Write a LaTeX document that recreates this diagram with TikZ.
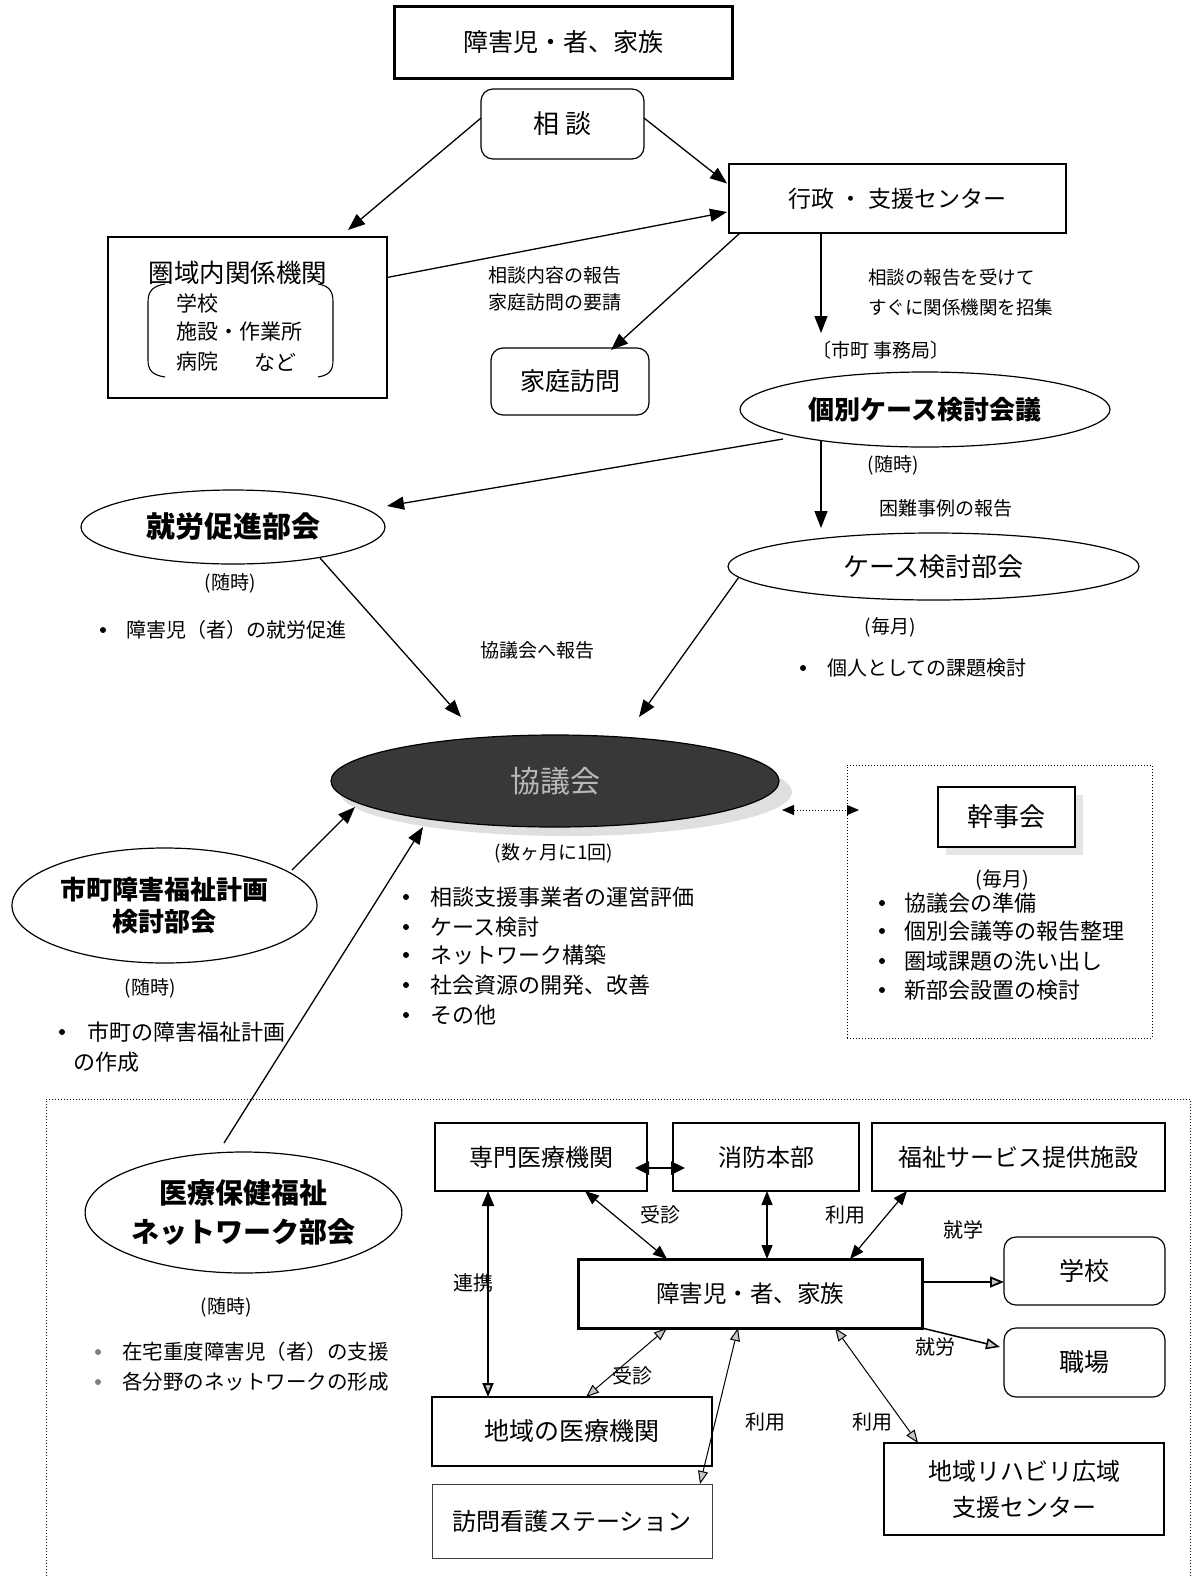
\documentclass[tikz,border=0pt]{standalone}
\usepackage{fontspec}
\setmainfont{Noto Sans CJK JP}
\usetikzlibrary{shapes.geometric,arrows.meta}
\newcommand\fsz[1]{\fontsize{#1}{#1}\selectfont}
\begin{document}
\begin{tikzpicture}[x=1pt,y=-1pt,
  box/.style={draw, line width=1.2pt, inner sep=0pt, outer sep=0pt, align=center},
  rbox/.style={box, rounded corners=12pt},
  ell/.style={draw, ellipse, line width=1.2pt, inner sep=0pt, outer sep=0pt, align=center},
  lbl/.style={inner sep=0pt, anchor=west},
  ctr/.style={inner sep=0pt},
  bul/.style={black},
  arr/.style={-{Triangle[length=17pt,width=13pt]}, line width=1.3pt},
  darr/.style={{Triangle[length=14pt,width=11pt]}-{Triangle[length=14pt,width=11pt]}, line width=1.2pt},
  larr/.style={{Triangle[length=13pt,width=10pt,fill=gray!45]}-{Triangle[length=13pt,width=10pt,fill=gray!45]}, line width=1pt},
  frame/.style={dotted, line width=1pt}
]
\useasboundingbox (0,0) rectangle (1195,1577);
\fill[white] (0,0) rectangle (1195,1577);

% ---------- upper part ----------
\node[box, line width=3pt, minimum width=338pt, minimum height=72pt, font=\fsz{25}] (top) at (563,42) {障害児・者、家族};
\node[rbox, minimum width=163pt, minimum height=70pt, font=\fsz{26}] (sodan) at (562.5,124) {相 談};
\node[box, minimum width=337pt, minimum height=69pt, font=\fsz{23}] (gyosei) at (897.5,198.5) {行政 ・ 支援センター};

\node[box, minimum width=279pt, minimum height=161pt] (ken) at (247.5,317.5) {};
\node[ctr, font=\fsz{25.5}] (kentitle) at (238,273) {圏域内関係機関};
\node[lbl, font=\fsz{21}] (k1) at (176,303) {学校};
\node[lbl, font=\fsz{21}] (k2) at (176,332) {施設・作業所};
\node[lbl, font=\fsz{21}] (k3) at (176,362) {病院};
\node[lbl, font=\fsz{21}] (k4) at (254,362) {など};
\draw[line width=1.1pt] (165,284) .. controls (152,286) and (148,292) .. (148,302) -- (148,360) .. controls (148,370) and (152,375) .. (165,377);
\draw[line width=1.1pt] (318,284) .. controls (330,286) and (333,292) .. (333,302) -- (333,360) .. controls (333,370) and (330,375) .. (318,377);

\node[rbox, minimum width=158pt, minimum height=67pt, font=\fsz{25}] (katei) at (570,381.5) {家庭訪問};

\node[lbl, font=\fsz{19}] (l1) at (488,275) {相談内容の報告};
\node[lbl, font=\fsz{19}] (l2) at (488,302) {家庭訪問の要請};
\node[lbl, font=\fsz{18.5}] (l3) at (868,278) {相談の報告を受けて};
\node[lbl, font=\fsz{18.5}] (l4) at (868,307) {すぐに関係機関を招集};
\node[lbl, font=\fsz{19}] (jim) at (812,350) {〔市町 事務局〕};

\node[ell, minimum width=370pt, minimum height=75pt, font=\fsz{26}\bfseries] (kobetsu) at (925,409.5) {個別ケース検討会議};
\node[ctr, font=\fsz{19}] (z1) at (893,465) {(随時)};
\node[lbl, font=\fsz{19}] (l5) at (879,508) {困難事例の報告};

\node[ell, minimum width=304pt, minimum height=74pt, font=\fsz{29}\bfseries] (shuro) at (233,527) {就労促進部会};
\node[ctr, font=\fsz{19}] (z2) at (230,583) {(随時)};
\fill[bul] (103,630) circle (3pt);
\node[lbl, font=\fsz{20}] (b1) at (126,630) {障害児（者）の就労促進};
\node[lbl, font=\fsz{19}] (l6) at (480,650) {協議会へ報告};

\node[ell, minimum width=411pt, minimum height=67pt, font=\fsz{26}] (case) at (933.5,566.5) {ケース検討部会};
\node[ctr, font=\fsz{19}] (z3) at (890,627) {(毎月)};
\fill[bul] (803,668) circle (3pt);
\node[lbl, font=\fsz{20}] (b2) at (827,668) {個人としての課題検討};

% ---------- council ----------
\fill[gray!25] (566,792) ellipse (226 and 44);
\node[ell, fill=black!78, minimum width=448pt, minimum height=92pt, font=\fsz{30}, text=gray!55] (kyo) at (555,781) {協議会};
\node[ctr, font=\fsz{19}] (z4) at (554,853) {(数ヶ月に1回)};
\foreach \yy/\tt in {897/相談支援事業者の運営評価, 927/ケース検討, 955/ネットワーク構築, 985/社会資源の開発、改善, 1015/その他}{
  \fill[bul] (406,\yy) circle (3pt);
  \node[lbl, font=\fsz{22}] at (430,\yy) {\tt};
}

\node[draw, frame, minimum width=305pt, minimum height=273pt, inner sep=0pt, outer sep=0pt] (kframe) at (999.5,901.5) {};
\fill[gray!20] (946,795) rectangle (1083,855);
\node[box, fill=white, minimum width=137pt, minimum height=60pt, font=\fsz{26}] (kanji) at (1006.5,817) {幹事会};
\node[ctr, font=\fsz{20}] (z5) at (1002,880) {(毎月)};
\foreach \yy/\tt in {903/協議会の準備, 931/個別会議等の報告整理, 961/圏域課題の洗い出し, 990/新部会設置の検討}{
  \fill[bul] (882,\yy) circle (3pt);
  \node[lbl, font=\fsz{22}] at (904,\yy) {\tt};
}

\node[ell, minimum width=305pt, minimum height=115pt, font=\fontsize{26}{32}\selectfont\bfseries] (shicho) at (164.5,905.5) {市町障害福祉計画\\検討部会};
\node[ctr, font=\fsz{19}] (z6) at (150,988) {(随時)};
\fill[bul] (62,1032) circle (3pt);
\node[lbl, font=\fsz{22}] (b3) at (87,1032) {市町の障害福祉計画};
\node[lbl, font=\fsz{22}] (b4) at (73,1062) {の作成};

% ---------- lower network ----------
\draw[frame] (46,1582) -- (46,1099) -- (1190,1099) -- (1190,1582);

\node[ell, minimum width=305pt, minimum height=121pt, font=\fontsize{28}{39}\selectfont\bfseries] (iryo) at (243.5,1212.5) {医療保健福祉\\ネットワーク部会};
\node[ctr, font=\fsz{19}] (z7) at (226,1307) {(随時)};
\fill[gray] (98,1352) circle (3pt);
\node[lbl, font=\fsz{20.5}] (b5) at (122,1352) {在宅重度障害児（者）の支援};
\fill[gray] (98,1382) circle (3pt);
\node[lbl, font=\fsz{20.5}] (b6) at (122,1382) {各分野のネットワークの形成};

\node[box, minimum width=212pt, minimum height=68pt, font=\fsz{24}] (senmon) at (541,1157) {専門医療機関};
\node[box, minimum width=186pt, minimum height=68pt, font=\fsz{24}] (shobo) at (766,1157) {消防本部};
\node[box, minimum width=293pt, minimum height=68pt, font=\fsz{24}] (fukushi) at (1018.5,1157) {福祉サービス提供施設};
\node[box, line width=3pt, minimum width=344pt, minimum height=69pt, font=\fsz{23.5}] (family) at (750,1293.5) {障害児・者、家族};
\node[rbox, minimum width=161pt, minimum height=68pt, font=\fsz{25}] (gakko) at (1084.5,1271) {学校};
\node[rbox, minimum width=161pt, minimum height=69pt, font=\fsz{25}] (shokuba) at (1084.5,1362.5) {職場};
\node[box, minimum width=280pt, minimum height=69pt, font=\fsz{25}] (chiiki) at (572,1431.5) {地域の医療機関};
\node[box, line width=1pt, draw=black!75, minimum width=280pt, minimum height=74pt, font=\fsz{24}] (homon) at (572,1521) {訪問看護ステーション};
\node[box, minimum width=280pt, minimum height=92pt, font=\fontsize{24}{36}\selectfont] (reha) at (1024,1489) {地域リハビリ広域\\支援センター};

\node[ctr, font=\fsz{20}] (t1) at (660,1215) {受診};
\node[ctr, font=\fsz{20}] (t2) at (845,1215) {利用};
\node[ctr, font=\fsz{20}] (t3) at (473,1283) {連携};
\node[ctr, font=\fsz{20}] (t4) at (963,1230) {就学};
\node[ctr, font=\fsz{20}] (t5) at (935,1347) {就労};
\node[ctr, font=\fsz{20}] (t6) at (632,1376) {受診};
\node[ctr, font=\fsz{20}] (t7) at (765,1422) {利用};
\node[ctr, font=\fsz{20}] (t8) at (872,1422) {利用};

% ---------- connectors (upper) ----------
\draw[arr] ([shift={(0,-6)}]sodan.west) -- ([shift={(-39,-7)}]ken.north east);
\draw[arr] ([shift={(0,-6)}]sodan.east) -- ([shift={(-2,-15)}]gyosei.west);
\draw[arr] ([shift={(0,-40)}]ken.east) -- ([shift={(-2,13.5)}]gyosei.west);
\draw[arr] ([shift={(11,0)}]gyosei.south west) -- ([shift={(-38,2)}]katei.north east);
\draw[arr] ([shift={(-76.5,0)}]gyosei.south) -- ++(0,100);
\draw[arr] ([shift={(-104,-6)}]kobetsu.south) -- ([shift={(-112.5,-5)}]case.north);
\draw[arr] ([shift={(-142,-8)}]kobetsu.south) -- ([shift={(2,-21)}]shuro.east);
\draw[arr] ([shift={(87,-6)}]shuro.south) -- ([shift={(-94,-18)}]kyo.north);
\draw[arr] ([shift={(11,10.5)}]case.west) -- ([shift={(84,-18)}]kyo.north);
\draw[{Triangle[length=12pt,width=10pt]}-{Triangle[length=12pt,width=10pt]}, line width=1pt, dotted] ([shift={(3,29)}]kyo.east) -- ([shift={(12,-91.5)}]kframe.west);
\draw[arr] ([shift={(-25,-35.5)}]shicho.east) -- ([shift={(-200,-20)}]kyo.south);
\draw[arr] ([shift={(-19.5,-9)}]iryo.north) -- ([shift={(-132,0)}]kyo.south);

% ---------- connectors (lower) ----------
\draw[{Triangle[length=14pt,width=13pt]}-{Triangle[length=14pt,width=13pt]}, line width=2.5pt] ([shift={(-12,11)}]senmon.east) -- ([shift={(12,11)}]shobo.west);
\draw[darr] ([shift={(44,0)}]senmon.south) -- ([shift={(-83,0)}]family.north);
\draw[darr] ([shift={(1,0)}]shobo.south) -- ([shift={(17,0)}]family.north);
\draw[darr] ([shift={(-111.5,0)}]fukushi.south) -- ([shift={(100,0)}]family.north);
\draw[{Triangle[length=15pt,width=12pt]}-{Triangle[length=14pt,width=11pt,fill=gray!45]}, line width=2pt] ([shift={(-53,0)}]senmon.south) -- ([shift={(-84,0)}]chiiki.north);
\draw[-{Triangle[length=14pt,width=11pt,fill=gray!45]}, line width=1.8pt] ([shift={(0,-11.5)}]family.east) -- ([shift={(0,11)}]gakko.west);
\draw[-{Triangle[length=14pt,width=11pt,fill=gray!45]}, line width=1.5pt] (family.south east) -- ([shift={(-4,-15.5)}]shokuba.west);
\draw[larr] ([shift={(-83,0)}]family.south) -- ([shift={(14,0)}]chiiki.north);
\draw[larr] ([shift={(-12,0)}]family.south) -- ([shift={(128,0)}]homon.north);
\draw[larr] ([shift={(85,0)}]family.south) -- ([shift={(-106,0)}]reha.north);
\end{tikzpicture}
\end{document}
